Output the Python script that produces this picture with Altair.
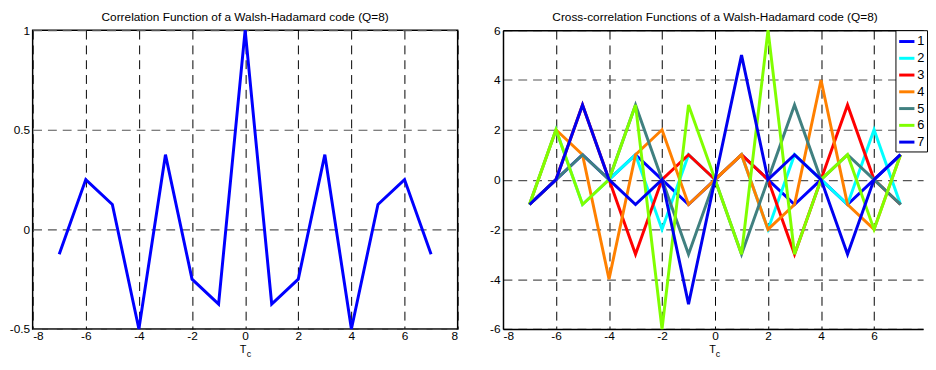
import altair as alt
import pandas as pd

# ---- data ----
lags = [-7, -6, -5, -4, -3, -2, -1, 0, 1, 2, 3, 4, 5, 6, 7]
auto_corr = [-0.125, 0.25, 0.125, -0.5, 0.375, -0.25, -0.375, 1.0,
             -0.375, -0.25, 0.375, -0.5, 0.125, 0.25, -0.125]
s1 = [-1, 0, 1, 0, 1, 0, -1, 0, 1, 0, -1, 0, -1, 0, 1]
s2 = [-1, 2, -1, 0, 1, -2, 1, 0, 1, -2, 1, 0, -1, 2, -1]
s3 = [-1, 0, 3, 0, -3, 0, 1, 0, 1, 0, -3, 0, 3, 0, -1]
s4 = [-1, 2, 1, -4, 1, 2, -1, 0, 1, -2, -1, 4, -1, -2, 1]
s5 = [-1, 0, 1, 0, 3, 0, -3, 0, -3, 0, 3, 0, 1, 0, -1]
s6 = [-1, 2, -1, 0, 3, -6, 3, 0, -3, 6, -3, 0, 1, -2, 1]
s7 = [-1, 0, 3, 0, -1, 0, -5, 0, 5, 0, 1, 0, -3, 0, 1]
series_names = ["1", "2", "3", "4", "5", "6", "7"]
series_colors = ["#0000FF", "#00FFFF", "#FF0000", "#FF8000", "#408080", "#80FF00", "#0000F0"]
x_ticks = [-8, -6, -4, -2, 0, 2, 4, 6, 8]
x_ticks_right = [-8, -6, -4, -2, 0, 2, 4, 6]
y_ticks_left = [-0.5, 0, 0.5, 1]
y_ticks_right = [-6, -4, -2, 0, 2, 4, 6]

title_left = "Correlation Function of a Walsh-Hadamard code (Q=8)"
title_right = "Cross-correlation Functions of a Walsh-Hadamard code (Q=8)"

FONT = "Liberation Sans"
W1, W2, H = 431, 426, 303

df_auto = pd.DataFrame({"lag": lags, "val": auto_corr})
rows = []
for name, vals in zip(series_names, [s1, s2, s3, s4, s5, s6, s7]):
    for l, v in zip(lags, vals):
        rows.append({"lag": l, "val": v, "code": name})
df_cross = pd.DataFrame(rows)
df_sub = pd.DataFrame({"x": [0], "t": ["c"]})
df_tl = pd.DataFrame({"t": [title_left]})
df_tr = pd.DataFrame({"t": [title_right]})

lbl = "'' + datum.value"


def top_frame_axis():
    return alt.Axis(orient="top", labels=False, ticks=False, grid=False, domain=True,
                    domainColor="black", domainWidth=1.5, title=None,
                    minExtent=0, maxExtent=0)


def title_layer(df, cx):
    return alt.Chart(df).mark_text(fontSize=12, font=FONT, baseline="alphabetic",
                                   align="center", color="black").encode(
        x=alt.value(cx), y=alt.value(-9), text="t:N")


def sub_layer(dx, xscale, axis):
    return alt.Chart(df_sub).mark_text(fontSize=9, font=FONT, baseline="alphabetic",
                                       dx=dx, color="black").encode(
        x=alt.X("x:Q", scale=xscale, axis=axis),
        y=alt.value(H + 28),
        text="t:N",
    )


# ---- left panel ----
xs_left = alt.Scale(domain=[-8, 8], nice=False, zero=False)
left_line = alt.Chart(df_auto).mark_line(color="#0000FF", strokeWidth=3).encode(
    x=alt.X("lag:Q", scale=xs_left,
            axis=alt.Axis(values=x_ticks, labelExpr=lbl, title="T", titleX=213,
                          titleAlign="center", labelPadding=2, titlePadding=2)),
    y=alt.Y("val:Q", scale=alt.Scale(domain=[-0.5, 1], nice=False, zero=False),
            axis=alt.Axis(values=y_ticks_left, labelExpr=lbl, title=None,
                          labelPadding=3, minExtent=24, maxExtent=24)),
)
left = alt.layer(
    left_line, sub_layer(4, xs_left, None), title_layer(df_tl, 215.5)
).resolve_axis(x="independent").properties(width=W1, height=H)

# ---- right panel ----
xs_right = alt.Scale(domain=[-8, 7.85], nice=False, zero=False)
right_lines = alt.Chart(df_cross).mark_line(strokeWidth=3).encode(
    x=alt.X("lag:Q", scale=xs_right,
            axis=alt.Axis(values=x_ticks_right, labelExpr=lbl, title="T", titleX=212,
                          titleAlign="center", labelPadding=2, titlePadding=2,
                          domain=True, domainColor="black", domainWidth=1.5)),
    y=alt.Y("val:Q", scale=alt.Scale(domain=[-6, 6], nice=False, zero=False),
            axis=alt.Axis(values=y_ticks_right, labelExpr=lbl, title=None,
                          labelPadding=3, domain=True, domainColor="black",
                          domainWidth=1.5)),
    color=alt.Color("code:N",
                    scale=alt.Scale(domain=series_names, range=series_colors),
                    legend=alt.Legend(orient="none", legendX=875, legendY=0, title=None,
                                      strokeColor="black", fillColor="white",
                                      padding=2, symbolType="stroke", symbolSize=240,
                                      symbolStrokeWidth=3, labelFontSize=13,
                                      labelFont=FONT, labelColor="black",
                                      rowPadding=0, labelOffset=1)),
    order=alt.Order("code:N"),
)
right = alt.layer(
    right_lines, sub_layer(3, xs_right, top_frame_axis()), title_layer(df_tr, 215)
).resolve_axis(x="independent").properties(
    width=W2, height=H,
    view=alt.ViewBackground(stroke="transparent"),
)

chart = alt.hconcat(left, right, spacing=46, bounds="flush").properties(
    padding={"top": 0, "left": 0, "right": 0, "bottom": 0}
).configure_view(
    stroke="black", strokeWidth=1.5
).configure_axis(
    labelFont=FONT, labelFontSize=12, labelColor="black",
    titleFont=FONT, titleFontSize=11, titleFontWeight="normal", titleColor="black",
    ticks=False, grid=True, gridColor="black", gridDash=[9, 6], gridWidth=1,
    domain=False,
).configure_axisY(
    gridColor="#555555", gridWidth=1.2,
).configure_text(font=FONT)

chart.save("out.html", embed_options={"renderer": "svg", "actions": False})
